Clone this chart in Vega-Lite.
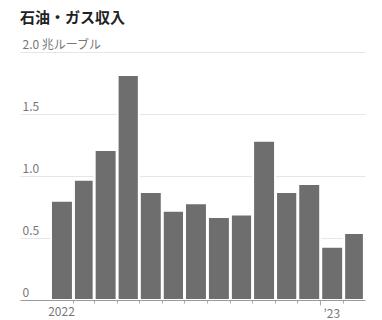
{
  "$schema": "https://vega.github.io/schema/vega-lite/v6.json",
  "autosize": {"type": "none"},
  "width": 345,
  "height": 248,
  "padding": {"left": 20, "top": 52, "right": 17, "bottom": 20},
  "background": "white",
  "title": {
    "text": "石油・ガス収入",
    "anchor": "start",
    "frame": "group",
    "font": "Noto Sans CJK JP",
    "fontSize": 15,
    "fontWeight": "bold",
    "color": "#222222",
    "offset": 12
  },
  "config": {
    "view": {"stroke": null},
    "font": "Noto Sans CJK JP"
  },
  "data": {
    "values": [
      {"month": "2022-01-01", "revenue": 0.80},
      {"month": "2022-02-01", "revenue": 0.97},
      {"month": "2022-03-01", "revenue": 1.21},
      {"month": "2022-04-01", "revenue": 1.815},
      {"month": "2022-05-01", "revenue": 0.87},
      {"month": "2022-06-01", "revenue": 0.72},
      {"month": "2022-07-01", "revenue": 0.78},
      {"month": "2022-08-01", "revenue": 0.67},
      {"month": "2022-09-01", "revenue": 0.69},
      {"month": "2022-10-01", "revenue": 1.285},
      {"month": "2022-11-01", "revenue": 0.87},
      {"month": "2022-12-01", "revenue": 0.935},
      {"month": "2023-01-01", "revenue": 0.43},
      {"month": "2023-02-01", "revenue": 0.54}
    ]
  },
  "mark": {"type": "bar", "color": "#6e6e6e", "stroke": "white", "strokeWidth": 2, "strokeOpacity": 1},
  "encoding": {
    "x": {
      "field": "month",
      "timeUnit": "utcyearmonth",
      "type": "temporal",
      "title": null,
      "scale": {
        "domain": [
          {"year": 2021, "month": 11, "date": 21, "hours": 12, "utc": true},
          {"year": 2023, "month": 3, "date": 2, "hours": 12, "utc": true}
        ]
      },
      "axis": {
        "values": [
          {"year": 2022, "month": 1, "date": 1, "utc": true},
          {"year": 2022, "month": 2, "date": 1, "utc": true},
          {"year": 2022, "month": 3, "date": 1, "utc": true},
          {"year": 2022, "month": 4, "date": 1, "utc": true},
          {"year": 2022, "month": 5, "date": 1, "utc": true},
          {"year": 2022, "month": 6, "date": 1, "utc": true},
          {"year": 2022, "month": 7, "date": 1, "utc": true},
          {"year": 2022, "month": 8, "date": 1, "utc": true},
          {"year": 2022, "month": 9, "date": 1, "utc": true},
          {"year": 2022, "month": 10, "date": 1, "utc": true},
          {"year": 2022, "month": 11, "date": 1, "utc": true},
          {"year": 2022, "month": 12, "date": 1, "utc": true},
          {"year": 2023, "month": 1, "date": 1, "utc": true},
          {"year": 2023, "month": 2, "date": 1, "utc": true}
        ],
        "labelExpr": "utcmonth(datum.value) == 0 ? (utcyear(datum.value) == 2022 ? '2022' : '’23') : ''",
        "labelOffset": 11,
        "labelAlign": "center",
        "labelFontSize": 12,
        "labelColor": "#777777",
        "labelPadding": 3,
        "labelFlush": false,
        "labelOverlap": false,
        "domainColor": "#999999",
        "domainWidth": 1,
        "tickColor": "#aaaaaa",
        "tickSize": {"condition": {"test": "utcyear(datum.value) == 2023 && utcmonth(datum.value) == 0", "value": 5}, "value": 3},
        "tickOpacity": {"condition": {"test": "utcyear(datum.value) == 2022 && utcmonth(datum.value) == 0", "value": 0}, "value": 1},
        "grid": false,
        "zindex": 1
      }
    },
    "y": {
      "field": "revenue",
      "type": "quantitative",
      "title": null,
      "scale": {"domain": [0, 2], "nice": false},
      "axis": {
        "values": [0, 0.5, 1, 1.5, 2],
        "labelExpr": "datum.value == 0 ? '0' : datum.value == 2 ? '2.0 兆ルーブル' : format(datum.value, '.1f')",
        "domain": false,
        "ticks": false,
        "tickSize": 0,
        "labelAlign": "left",
        "labelBaseline": "alphabetic",
        "labelOffset": -4,
        "labelPadding": -2,
        "labelFontSize": 12,
        "labelColor": "#777777",
        "grid": true,
        "gridColor": "#e6e6e6",
        "gridWidth": 1
      }
    }
  }
}
